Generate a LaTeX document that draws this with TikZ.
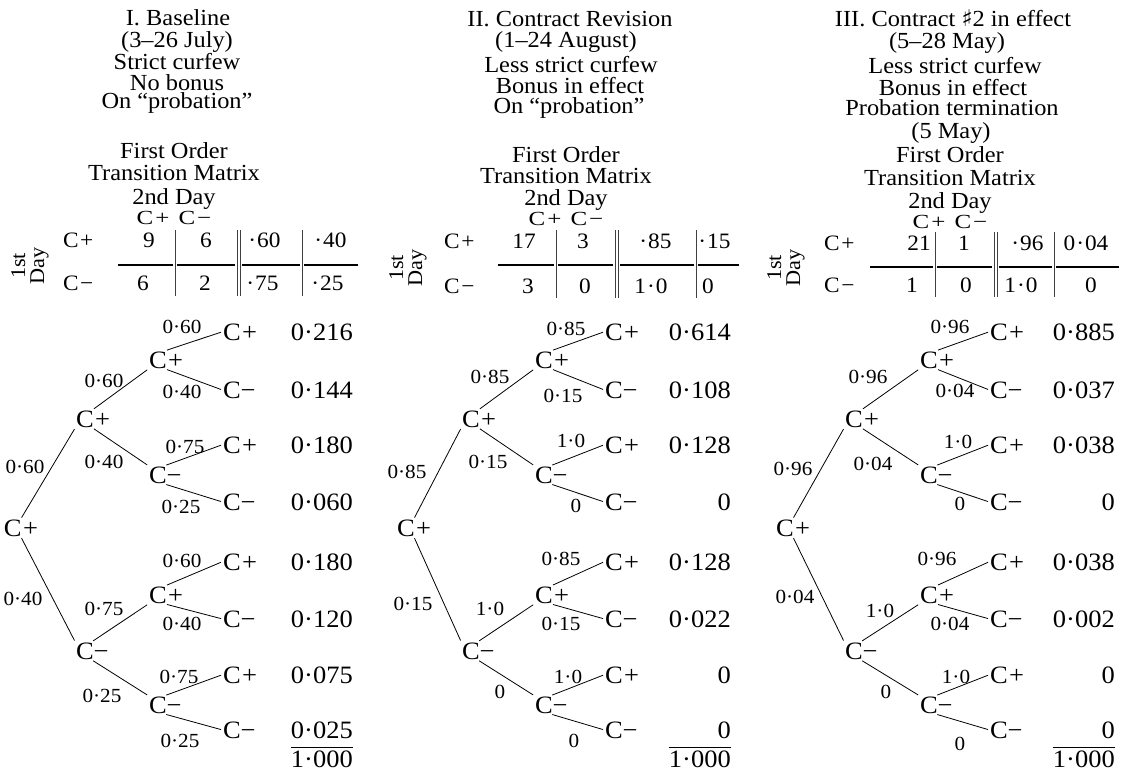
\documentclass[tikz,border=0pt]{standalone}
\usepackage{fontspec}
\setmainfont{Liberation Serif}[FakeStretch=1.06]
\newfontfamily\widefont{Liberation Serif}[FakeStretch=1.25]
\newfontfamily\symfont{DejaVu Sans}

% state labels of the tree
\newcommand\cplus{C\kern1.5pt+}
\newcommand\cminus{C−}
% decimal point of the matrices, set with a little air round it
\newcommand\mdot{\kern1pt·\kern1pt}

% one probability tree: #1 name prefix, #2..#5 left x of the four levels
\newcommand\drawtree[5]{%
  \node[st] (#1r)   at (#2,536) {\cplus};
  \node[st] (#1a)   at (#3,427) {\cplus};
  \node[st] (#1b)   at (#3,659) {\cminus};
  \node[st] (#1aa)  at (#4,368) {\cplus};
  \node[st] (#1ab)  at (#4,483) {\cminus};
  \node[st] (#1ba)  at (#4,603) {\cplus};
  \node[st] (#1bb)  at (#4,713) {\cminus};
  \node[st] (#1aaa) at (#5,340) {\cplus};
  \node[st] (#1aab) at (#5,398) {\cminus};
  \node[st] (#1aba) at (#5,453) {\cplus};
  \node[st] (#1abb) at (#5,510) {\cminus};
  \node[st] (#1baa) at (#5,570) {\cplus};
  \node[st] (#1bab) at (#5,627) {\cminus};
  \node[st] (#1bba) at (#5,683) {\cplus};
  \node[st] (#1bbb) at (#5,738) {\cminus};
  \draw[br] (#1r.north) -- (#1a.south west);
  \draw[br] (#1r.south) -- (#1b.north west);
  \draw[br] (#1a.north) -- (#1aa.south west);
  \draw[br] (#1a.south) -- (#1ab.north west);
  \draw[br] (#1b.north) -- (#1ba.south west);
  \draw[br] (#1b.south) -- (#1bb.north west);
  \draw[br] (#1aa.north) -- (#1aaa.west);
  \draw[br] (#1aa.south) -- (#1aab.west);
  \draw[br] (#1ab.north) -- (#1aba.west);
  \draw[br] (#1ab.south) -- (#1abb.west);
  \draw[br] (#1ba.north) -- (#1baa.west);
  \draw[br] (#1ba.south) -- (#1bab.west);
  \draw[br] (#1bb.north) -- (#1bba.west);
  \draw[br] (#1bb.south) -- (#1bbb.west);
}

\begin{document}
\begin{tikzpicture}[x=1pt,y=-1pt,
  hdr/.style={font=\fontsize{23}{23}\selectfont,anchor=base,inner sep=0},
  cc/.style={font=\widefont\fontsize{20}{20}\selectfont,anchor=base,inner sep=0},
  st/.style={font=\fontsize{25}{25}\selectfont,anchor=base west,inner sep=0,outer sep=1pt},
  pr/.style={font=\fontsize{25}{25}\selectfont,anchor=base east,inner sep=0},
  bl/.style={font=\fontsize{20}{20}\selectfont,anchor=base,inner sep=0},
  mx/.style={font=\fontsize{22}{22}\selectfont,anchor=base,inner sep=0},
  mxl/.style={mx,anchor=base west},
  dayl/.style={font=\fontsize{21}{19}\selectfont,align=center,rotate=90,inner sep=0},
  br/.style={line width=0.8pt,shorten <=1pt,shorten >=1pt},
  bar/.style={line width=0.6pt,black!75},
  rl/.style={line width=1.3pt},
  sumrule/.style={line width=1.3pt}]
\useasboundingbox (0,0) rectangle (1128,771);

% ---------- headings ----------
\node[hdr] (h1a) at (178,25)  {I. Baseline};
\node[hdr] (h1b) at (177,47)  {(3–26 July)};
\node[hdr] (h1c) at (177,69)  {Strict curfew};
\node[hdr] (h1d) at (177,90)  {No bonus};
\node[hdr] (h1e) at (177,108) {On “probation”};

\node[hdr] (h2a) at (570,27)  {II. Contract Revision};
\node[hdr] (h2b) at (566,47)  {(1–24 August)};
\node[hdr] (h2c) at (571,72)  {Less strict curfew};
\node[hdr] (h2d) at (570,93)  {Bonus in effect};
\node[hdr] (h2e) at (569,113) {On “probation”};

\node[hdr] (h3a) at (953,27)  {III. Contract {\symfont ♯}2 in effect};
\node[hdr] (h3b) at (947,48)  {(5–28 May)};
\node[hdr] (h3c) at (955,73)  {Less strict curfew};
\node[hdr] (h3d) at (953,95)  {Bonus in effect};
\node[hdr] (h3e) at (952,115) {Probation termination};
\node[hdr] (h3f) at (951,138) {(5 May)};

% ---------- matrix titles ----------
\foreach \c/\x/\ya/\yb/\yc/\yd in {1/174/158/180/204/224, 2/566/162/183/205/225, 3/950/162/185/208/228}{
  \node[hdr] (t\c a) at (\x,\ya) {First Order};
  \node[hdr] (t\c b) at (\x,\yb) {Transition Matrix};
  \node[hdr] (t\c c) at (\x,\yc) {2nd Day};
  \node[cc]  (t\c d) at (\x,\yd) {C\kern2pt+\kern9pt C\kern2pt−};
}

% ---------- transition matrices ----------
% I
\node[dayl] (d1) at (30,266) {1st\\Day};
\node[mxl] (A1p) at (63,247) {C\kern1.5pt+};
\node[mxl] (A1m) at (63,290) {C\kern1.5pt−};
\node[mx] (A11) at (149,247) {9};
\node[mx] (A12) at (206,247) {6};
\node[mx] (A13) at (264,247) {\mdot60};
\node[mx] (A14) at (330,247) {\mdot40};
\node[mx] (A21) at (143,290) {6};
\node[mx] (A22) at (205,290) {2};
\node[mx] (A23) at (262,290) {\mdot75};
\node[mx] (A24) at (327,290) {\mdot25};
\draw[bar] (175,230) -- (175,296);
\draw[bar] (237,230) -- (237,296) (240,230) -- (240,296);
\draw[bar] (302,230) -- (302,296);
\draw[rl] (118,265) -- (173,265) (177,265) -- (235,265) (242,265) -- (300,265) (304,265) -- (358,265);

% II
\node[dayl] (d2) at (408,268) {1st\\Day};
\node[mxl] (B1p) at (444,248) {C\kern1.5pt+};
\node[mxl] (B1m) at (444,293) {C\kern1.5pt−};
\node[mx] (B11) at (524,248) {17};
\node[mx] (B12) at (583,248) {3};
\node[mx] (B13) at (655,248) {\mdot85};
\node[mx] (B14) at (714,248) {\mdot15};
\node[mx] (B21) at (528,293) {3};
\node[mx] (B22) at (585,293) {0};
\node[mx] (B23) at (651,293) {1\mdot0};
\node[mx] (B24) at (708,293) {0};
\draw[bar] (556,230) -- (556,298);
\draw[bar] (615,230) -- (615,298) (618,230) -- (618,298);
\draw[bar] (696,230) -- (696,298);
\draw[rl] (498,265) -- (554,265) (558,265) -- (613,265) (620,265) -- (694,265) (698,265) -- (739,265);

% III
\node[dayl] (d3) at (786,268) {1st\\Day};
\node[mxl] (C1p) at (824,250) {C\kern1.5pt+};
\node[mxl] (C1m) at (824,292) {C\kern1.5pt−};
\node[mx] (C11) at (919,250) {21};
\node[mx] (C12) at (964,250) {1};
\node[mx] (C13) at (1027,250) {\mdot96};
\node[mx] (C14) at (1086,250) {0\mdot04};
\node[mx] (C21) at (912,292) {1};
\node[mx] (C22) at (966,292) {0};
\node[mx] (C23) at (1021,292) {1\mdot0};
\node[mx] (C24) at (1091,292) {0};
\draw[bar] (935,232) -- (935,297);
\draw[bar] (994,232) -- (994,297) (997,232) -- (997,297);
\draw[bar] (1054,232) -- (1054,297);
\draw[rl] (870,267) -- (933,267) (937,267) -- (992,267) (999,267) -- (1052,267) (1056,267) -- (1119,267);

% ---------- probability trees ----------
\drawtree{P}{3}{75}{148}{222}
\drawtree{Q}{396}{461}{534}{604}
\drawtree{R}{775}{844}{919}{989}

% branch probabilities, tree I
\node[bl] (Pl1) at (25,473)  {0·60};
\node[bl] (Pl2) at (23,605)  {0·40};
\node[bl] (Pl3) at (104,387) {0·60};
\node[bl] (Pl4) at (104,468) {0·40};
\node[bl] (Pl5) at (104,615) {0·75};
\node[bl] (Pl6) at (102,702) {0·25};
\node[bl] (Pl7) at (182,333) {0·60};
\node[bl] (Pl8) at (182,398) {0·40};
\node[bl] (Pl9) at (185,453) {0·75};
\node[bl] (Pl10) at (181,513) {0·25};
\node[bl] (Pl11) at (182,567) {0·60};
\node[bl] (Pl12) at (182,630) {0·40};
\node[bl] (Pl13) at (179,683) {0·75};
\node[bl] (Pl14) at (180,747) {0·25};

% branch probabilities, tree II
\node[bl] (Ql1) at (407,478) {0·85};
\node[bl] (Ql2) at (413,610) {0·15};
\node[bl] (Ql3) at (490,383) {0·85};
\node[bl] (Ql4) at (488,468) {0·15};
\node[bl] (Ql5) at (490,615) {1·0};
\node[bl] (Ql6) at (500,698) {0};
\node[bl] (Ql7) at (566,335) {0·85};
\node[bl] (Ql8) at (563,402) {0·15};
\node[bl] (Ql9) at (571,447) {1·0};
\node[bl] (Ql10) at (576,512) {0};
\node[bl] (Ql11) at (561,565) {0·85};
\node[bl] (Ql12) at (561,630) {0·15};
\node[bl] (Ql13) at (568,683) {1·0};
\node[bl] (Ql14) at (574,747) {0};

% branch probabilities, tree III
\node[bl] (Rl1) at (793,475) {0·96};
\node[bl] (Rl2) at (795,603) {0·04};
\node[bl] (Rl3) at (868,383) {0·96};
\node[bl] (Rl4) at (873,470) {0·04};
\node[bl] (Rl5) at (880,617) {1·0};
\node[bl] (Rl6) at (886,698) {0};
\node[bl] (Rl7) at (950,333) {0·96};
\node[bl] (Rl8) at (955,397) {0·04};
\node[bl] (Rl9) at (958,448) {1·0};
\node[bl] (Rl10) at (960,510) {0};
\node[bl] (Rl11) at (937,565) {0·96};
\node[bl] (Rl12) at (950,630) {0·04};
\node[bl] (Rl13) at (956,683) {1·0};
\node[bl] (Rl14) at (960,750) {0};

% path probabilities and totals
\foreach \t/\x/\a/\b/\c/\d/\e/\f/\g/\h in {
  P/353/0·216/0·144/0·180/0·060/0·180/0·120/0·075/0·025,
  Q/731/0·614/0·108/0·128/0/0·128/0·022/0/0,
  R/1115/0·885/0·037/0·038/0/0·038/0·002/0/0}{
  \node[pr] (\t p1) at (\x,340) {\a};
  \node[pr] (\t p2) at (\x,398) {\b};
  \node[pr] (\t p3) at (\x,453) {\c};
  \node[pr] (\t p4) at (\x,510) {\d};
  \node[pr] (\t p5) at (\x,570) {\e};
  \node[pr] (\t p6) at (\x,627) {\f};
  \node[pr] (\t p7) at (\x,683) {\g};
  \node[pr] (\t p8) at (\x,738) {\h};
  \node[pr] (\t tot) at (\x,767) {1·000};
  \draw[sumrule] ([yshift=3pt]\t tot.north west) -- ([yshift=3pt]\t tot.north east);
}
\end{tikzpicture}
\end{document}
